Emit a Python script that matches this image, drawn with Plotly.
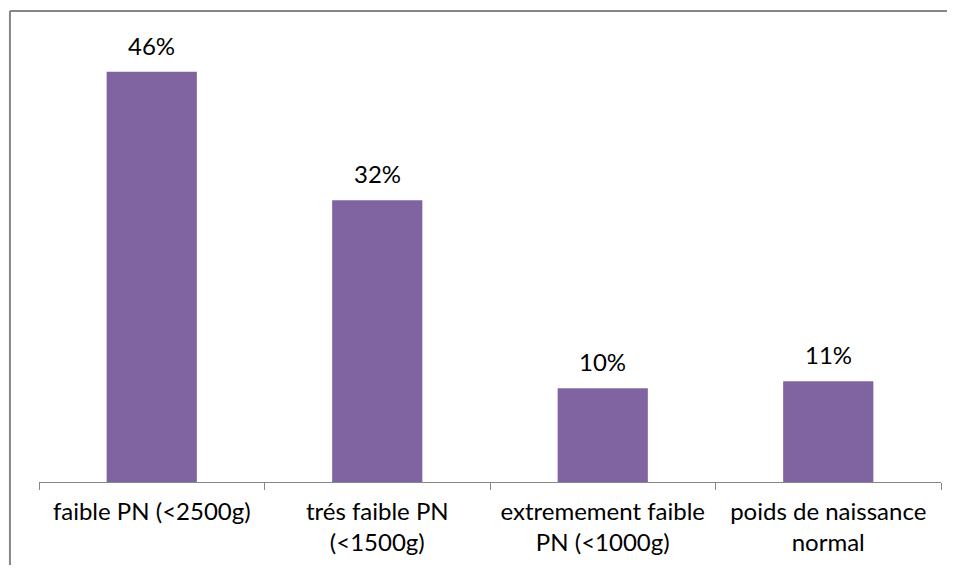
import plotly.graph_objects as go

categories = [
    "faible PN (<2500g)",
    "trés faible PN<br>(<1500g)",
    "extremement faible<br>PN (<1000g)",
    "poids de naissance<br>normal",
]
values = [46, 31.6, 10.5, 11.3]
value_labels = ["46%", "32%", "10%", "11%"]

BAR_COLOR = "#8064A2"
LINE_COLOR = "#868686"
FONT = "Lato, 'Open Sans', sans-serif"

fig = go.Figure(
    go.Bar(
        x=categories,
        y=values,
        marker={"color": BAR_COLOR, "line": {"width": 0}},
        hoverinfo="skip",
    )
)

for cat, val, label in zip(categories, values, value_labels):
    fig.add_annotation(
        x=cat, y=val, text=label, showarrow=False,
        yanchor="bottom", yshift=10,
        font={"family": FONT, "size": 24, "color": "#000000"},
    )

# chart area border: left edge and top edge only
border = {"color": LINE_COLOR, "width": 2}
fig.add_shape(type="line", xref="paper", yref="paper",
              x0=-0.0322, x1=-0.0322, y0=-0.2, y1=1.056, line=border)
fig.add_shape(type="line", xref="paper", yref="paper",
              x0=-0.0322, x1=1.2, y0=1.056, y1=1.056, line=border)

# the page body has an 8px margin, so the margins are shifted to compensate
fig.update_layout(
    width=939,
    height=557,
    margin={"l": 31, "r": 6, "t": 28, "b": 83},
    paper_bgcolor="#FFFFFF",
    plot_bgcolor="#FFFFFF",
    bargap=0.6,
    showlegend=False,
    font={"family": FONT, "size": 24, "color": "#000000"},
    xaxis={
        "type": "category",
        "range": [-0.5, 3.5],
        "automargin": False,
        "tickson": "boundaries",
        "ticks": "outside",
        "ticklen": 7,
        "tickwidth": 1,
        "tickcolor": LINE_COLOR,
        "showline": True,
        "linecolor": LINE_COLOR,
        "linewidth": 1,
        "showgrid": False,
        "tickfont": {"family": FONT, "size": 24, "color": "#000000"},
        "ticklabelstandoff": 8,
    },
    yaxis={"visible": False, "range": [0, 50]},
)

fig.write_html("out.html")
